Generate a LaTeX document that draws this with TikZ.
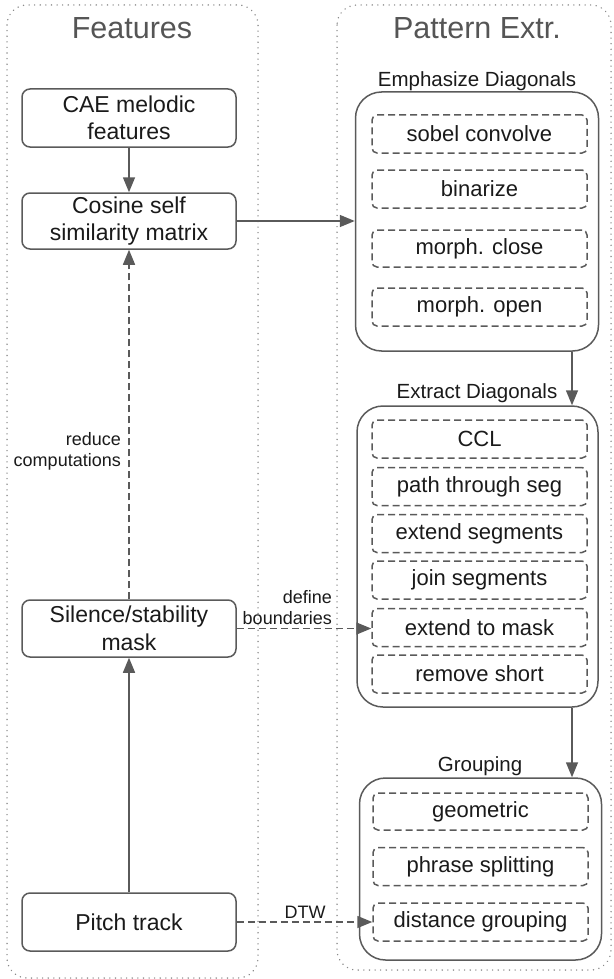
\documentclass[tikz,border=0pt]{standalone}
\usepackage{fontspec}
\setmainfont{Liberation Sans}
\usetikzlibrary{arrows.meta,calc}
\definecolor{edge}{HTML}{5A5A5A}
\definecolor{dotc}{HTML}{8A8A8A}
\definecolor{txt}{HTML}{1A1A1A}
\definecolor{ttl}{HTML}{555555}
\begin{document}
\begin{tikzpicture}[x=1pt,y=-1pt,
  container/.style={draw=dotc, line width=1.5pt, dash pattern=on 0.1pt off 5.5pt, line cap=round, rounded corners=20pt},
  featbox/.style={draw=edge, line width=1.5pt, rounded corners=8pt, minimum width=214pt, align=center, text=txt, font=\fontsize{23}{27.5}\selectfont, inner sep=0pt},
  groupbox/.style={draw=edge, line width=1.5pt, rounded corners=26pt, inner sep=0pt},
  stepbox/.style={draw=edge, line width=1.5pt, dash pattern=on 7pt off 4pt, rounded corners=5pt, minimum width=215pt, align=center, text=txt, font=\fontsize{22}{26}\selectfont, inner sep=0pt},
  grplabel/.style={text=txt, font=\fontsize{20.5}{24}\selectfont, inner sep=0pt},
  titlelabel/.style={text=ttl, font=\fontsize{30.5}{34}\selectfont, inner sep=0pt},
  edgelabel/.style={text=txt, font=\fontsize{18}{21}\selectfont, inner sep=0pt, align=right},
  arr/.style={draw=edge, line width=1.5pt, -{Triangle[length=15pt,width=12pt]}},
  darr/.style={arr, dash pattern=on 7pt off 4pt}
]
\useasboundingbox (0,0) rectangle (613,979);

% containers
\draw[container] (7,5) rectangle (258,978);
\draw[container] (337,5) rectangle (611,970);

% titles
\node[titlelabel] (tfeat) at (132,28) {Features};
\node[titlelabel] (tpat) at (477,28) {Pattern Extr.};

% left boxes
\node[featbox, minimum height=58pt] (cae) at (129,118) {CAE melodic\\features};
\node[featbox, minimum height=56pt] (cos) at (129,221) {Cosine self\\similarity matrix};
\node[featbox, minimum height=57pt] (sil) at (129,628.5) {Silence/stability\\mask};
\node[featbox, minimum height=58pt] (pitch) at (129,922) {Pitch track};

% group boxes
\node[groupbox, minimum width=243pt, minimum height=259pt] (emph) at (477,221.5) {};
\node[groupbox, minimum width=241pt, minimum height=301pt] (extr) at (477.5,556.5) {};
\node[groupbox, minimum width=242pt, minimum height=182pt] (grp) at (480.5,869) {};

\node[grplabel] (lemph) at (477,81) {Emphasize Diagonals};
\node[grplabel] (lextr) at (477,393) {Extract Diagonals};
\node[grplabel] (lgrp) at (480,766) {Grouping};

% inner steps
\node[stepbox, minimum height=38pt] (sobel) at (479.5,134) {sobel convolve};
\node[stepbox, minimum height=38pt] (bin) at (479.5,189) {binarize};
\node[stepbox, minimum height=37pt] (close) at (479.5,248.5) {morph. close};
\node[stepbox, minimum height=38pt] (open) at (479.5,307) {morph. open};

\node[stepbox, minimum height=38pt] (ccl) at (479.5,439) {CCL};
\node[stepbox, minimum height=38pt] (path) at (479.5,486.5) {path through seg};
\node[stepbox, minimum height=38pt] (extseg) at (479.5,533.5) {extend segments};
\node[stepbox, minimum height=38pt] (join) at (479.5,580) {join segments};
\node[stepbox, minimum height=38pt] (mask) at (479.5,627.5) {extend to mask};
\node[stepbox, minimum height=38pt] (remove) at (479.5,674) {remove short};

\node[stepbox, minimum height=37pt] (geom) at (480.5,811.5) {geometric};
\node[stepbox, minimum height=38pt] (phrase) at (480.5,866.5) {phrase splitting};
\node[stepbox, minimum height=38pt] (dist) at (480.5,922) {distance grouping};

% connectors
\coordinate (ax) at (572,0);
\draw[arr] (cae) -- (cos);
\draw[arr] (cos.east) -- (cos.east -| emph.west);
\draw[arr] (emph.south -| ax) -- (extr.north -| ax);
\draw[arr] (extr.south -| ax) -- (grp.north -| ax);
\draw[darr] (sil) -- (cos);
\draw[arr] (pitch) -- (sil);
\draw[darr] (sil.east) -- (sil.east -| mask.west);
\draw[darr] (pitch.east) -- (dist.west);

% edge labels
\node[edgelabel, anchor=east] (lred) at (121,451.5) {reduce\\computations};
\node[edgelabel, anchor=east] (lbound) at (332,607.5) {define\\boundaries};
\node[edgelabel] (ldtw) at (305,912) {DTW};
\end{tikzpicture}
\end{document}
